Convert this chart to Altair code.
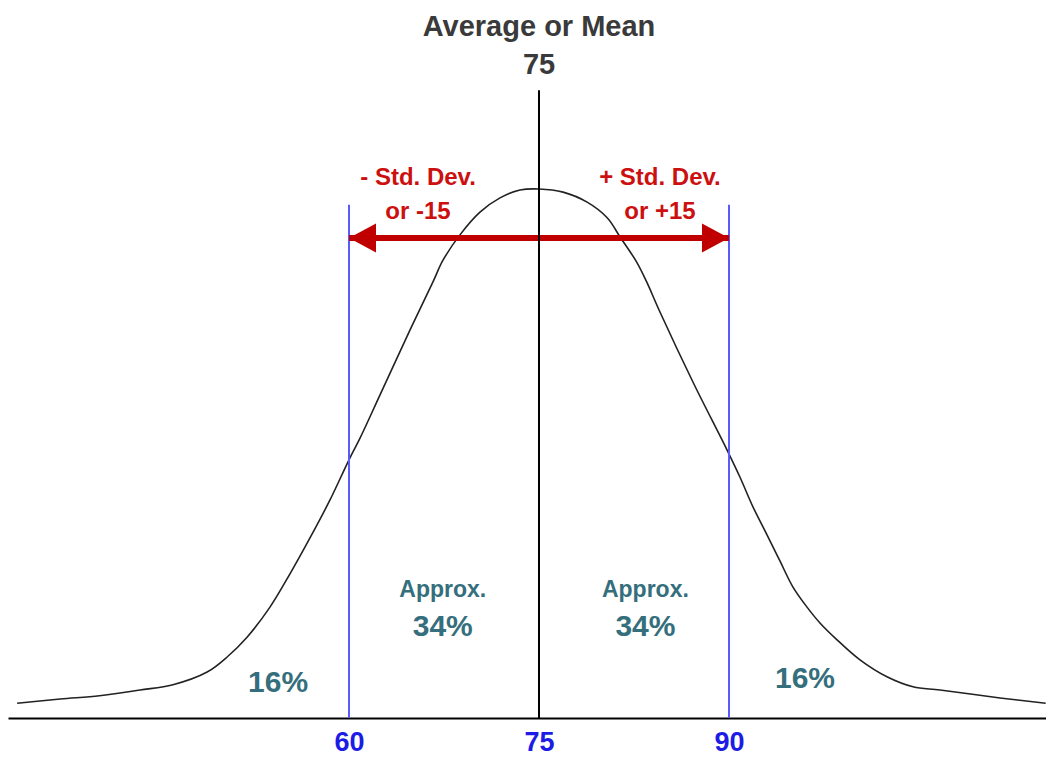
import altair as alt
import pandas as pd

# ---- data ----
curve_x = [33.8, 37.2, 40.3, 43.5, 46.1, 48.8, 50.4, 51.95, 53.76, 55.34, 56.92,
           58.5, 60.0, 60.87, 62.45, 64.82, 66.63, 67.42, 68.76, 70.34, 71.92,
           73.5, 75.0,
           76.9, 78.8, 80.4, 81.4, 82.7, 83.5, 84.55, 87.2, 89.84, 90.87, 91.89,
           93.0, 94.03, 95.05, 96.16, 97.18, 98.53, 100.34, 102.47, 104.53,
           106.66, 111.4, 115.0]
curve_y = [2.8, 3.6, 4.2, 5.3, 6.3, 8.7, 11.6, 15.3, 21.0, 27.3, 34.1,
           41.3, 48.9, 53.0, 61.2, 73.5, 82.6, 86.7, 91.5, 95.8, 98.5,
           100.0, 100.2,
           99.6, 97.7, 94.7, 91.1, 86.4, 82.6, 76.9, 63.4, 50.8, 45.6, 40.0,
           34.7, 29.7, 24.8, 21.0, 18.0, 14.8, 11.0, 7.8, 5.9,
           5.3, 3.8, 2.8]

tick_values = [60, 75, 90]
mean_value = 75
mean_line_top = 118.9
sd_values = [60, 90]
sd_line_top = 97.2
arrow_level = 90.9

# annotation anchors (data space)
approx_x = [67.4, 83.4]
approx_y = 22.9
pct34_y = 15.5
tail_x = [54.4, 96.0]
tail_y = [4.9, 5.7]
sd_label_x = [65.45, 84.55]
sd_label_y = 100.9
sd_labels = [["- Std. Dev.", "or -15"], ["+ Std. Dev.", "or +15"]]
title_y = [129.2, 122.0]
title_lines = ["Average or Mean", "75"]

FONT = "Liberation Sans"
RED_TXT = "#cc1010"
RED_ARROW = "#c00000"
TEAL = "#356e7c"
BLUE_LINE = "#5a5aff"
BLUE_LBL = "#1c1ce6"

X_DOMAIN = [33.079, 115.026]
Y_DOMAIN = [-7.576, 134.47]

xs = alt.Scale(domain=X_DOMAIN, nice=False, zero=False)
ys = alt.Scale(domain=Y_DOMAIN, nice=False, zero=False)

curve_df = pd.DataFrame({"x": curve_x, "y": curve_y})

curve = alt.Chart(curve_df).mark_line(color="#222222", strokeWidth=1.6,
                                      interpolate="catmull-rom").encode(
    x=alt.X("x:Q", scale=xs,
            axis=alt.Axis(values=tick_values, title=None, grid=False,
                          ticks=False, tickSize=0, offset=-40,
                          domainColor="black", domainWidth=2,
                          labelColor=BLUE_LBL, labelFont=FONT,
                          labelFontSize=27, labelFontWeight="bold",
                          labelBaseline="alphabetic", labelPadding=32,
                          labelFlush=False)),
    y=alt.Y("y:Q", scale=ys, axis=None),
)

sd_df = pd.DataFrame({"x": sd_values, "y": [0] * len(sd_values),
                      "y2": [sd_line_top] * len(sd_values)})
sd_lines = alt.Chart(sd_df).mark_rule(color=BLUE_LINE, strokeWidth=2).encode(
    x=alt.X("x:Q", scale=xs), y=alt.Y("y:Q", scale=ys), y2="y2:Q")

shaft_df = pd.DataFrame({"x": [sd_values[0]], "x2": [sd_values[1]], "y": [arrow_level]})
shaft = alt.Chart(shaft_df).mark_rule(color=RED_ARROW, strokeWidth=6).encode(
    x=alt.X("x:Q", scale=xs), x2="x2:Q", y=alt.Y("y:Q", scale=ys))

head_left = alt.Chart(pd.DataFrame({"x": [sd_values[0]], "y": [arrow_level]})).mark_point(
    shape="M0,0L2,-1.07L2,1.07Z", size=729, filled=True, opacity=1,
    color=RED_ARROW).encode(x=alt.X("x:Q", scale=xs), y=alt.Y("y:Q", scale=ys))
head_right = alt.Chart(pd.DataFrame({"x": [sd_values[1]], "y": [arrow_level]})).mark_point(
    shape="M0,0L-2,-1.07L-2,1.07Z", size=729, filled=True, opacity=1,
    color=RED_ARROW).encode(x=alt.X("x:Q", scale=xs), y=alt.Y("y:Q", scale=ys))

mean_df = pd.DataFrame({"x": [mean_value], "y": [0], "y2": [mean_line_top]})
mean_line = alt.Chart(mean_df).mark_rule(color="black", strokeWidth=2).encode(
    x=alt.X("x:Q", scale=xs), y=alt.Y("y:Q", scale=ys), y2="y2:Q")

title_df = pd.DataFrame({"x": [mean_value, mean_value], "y": title_y, "t": title_lines})
title = alt.Chart(title_df).mark_text(font=FONT, fontSize=29, fontWeight="bold",
                                      color="#3a3a3a", align="center",
                                      baseline="alphabetic").encode(
    x=alt.X("x:Q", scale=xs), y=alt.Y("y:Q", scale=ys), text="t:N")

sd_text_df = pd.DataFrame({"x": sd_label_x, "y": [sd_label_y] * 2,
                           "t": sd_labels})
sd_text = alt.Chart(sd_text_df).mark_text(font=FONT, fontSize=24, fontWeight="bold",
                                          color=RED_TXT, align="center",
                                          baseline="alphabetic", lineHeight=34).encode(
    x=alt.X("x:Q", scale=xs), y=alt.Y("y:Q", scale=ys), text="t")

approx_df = pd.DataFrame({"x": approx_x, "y": [approx_y] * 2, "t": ["Approx."] * 2})
approx = alt.Chart(approx_df).mark_text(font=FONT, fontSize=23, fontWeight="bold",
                                        color=TEAL, align="center",
                                        baseline="alphabetic").encode(
    x=alt.X("x:Q", scale=xs), y=alt.Y("y:Q", scale=ys), text="t:N")

p34_df = pd.DataFrame({"x": approx_x, "y": [pct34_y] * 2, "t": ["34%"] * 2})
p34 = alt.Chart(p34_df).mark_text(font=FONT, fontSize=30, fontWeight="bold",
                                  color=TEAL, align="center",
                                  baseline="alphabetic").encode(
    x=alt.X("x:Q", scale=xs), y=alt.Y("y:Q", scale=ys), text="t:N")

tail_df = pd.DataFrame({"x": tail_x, "y": tail_y, "t": ["16%"] * 2})
tails = alt.Chart(tail_df).mark_text(font=FONT, fontSize=30, fontWeight="bold",
                                     color=TEAL, align="center",
                                     baseline="alphabetic").encode(
    x=alt.X("x:Q", scale=xs), y=alt.Y("y:Q", scale=ys), text="t:N")

chart = alt.layer(curve, sd_lines, shaft, head_left, head_right, mean_line,
                  title, sd_text, approx, p34, tails).properties(
    width=1038, height=750, padding=0,
    autosize=alt.AutoSizeParams(type="none"),
    background="white",
).configure_view(stroke=None)

chart.save("out.html", embed_options={"renderer": "svg", "actions": False})
